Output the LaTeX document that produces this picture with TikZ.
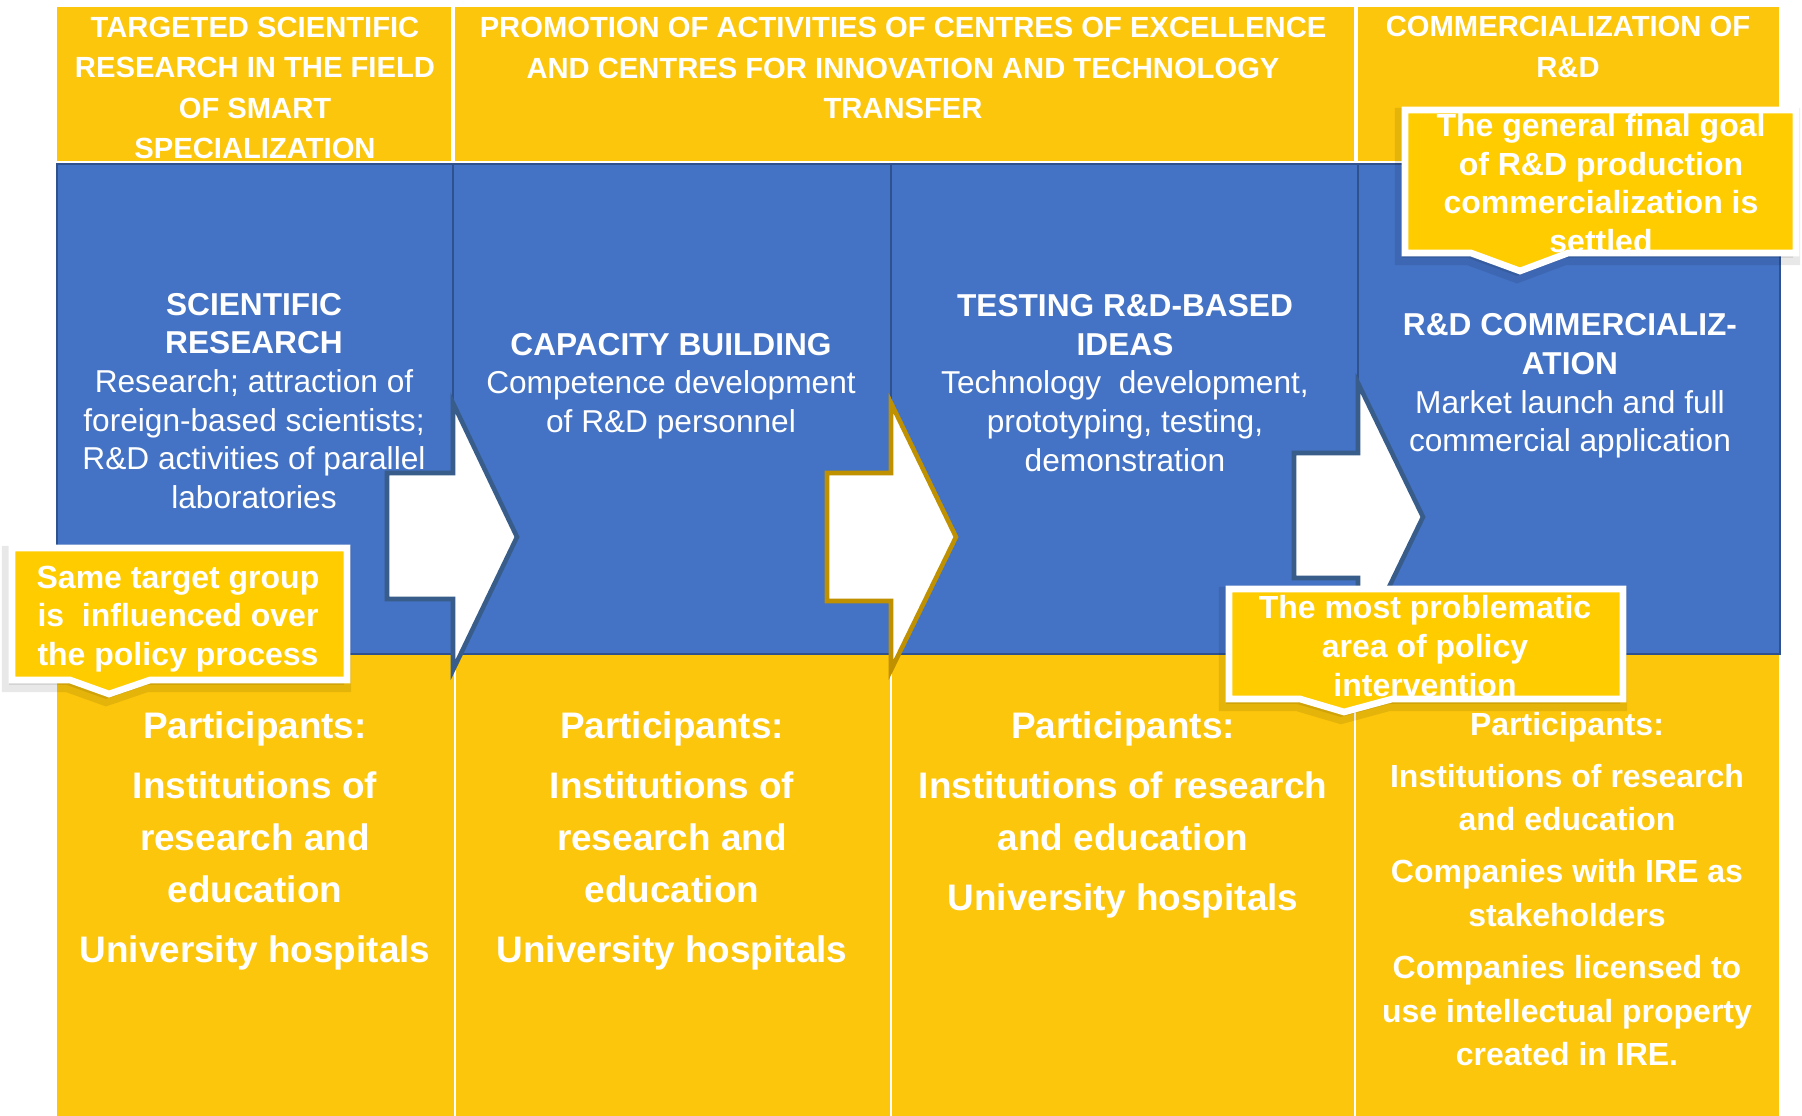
\documentclass[tikz,border=0pt]{standalone}
\usepackage{fontspec}
\setmainfont{Liberation Sans}
\definecolor{bandyellow}{RGB}{252,198,12}
\definecolor{noteyellow}{RGB}{255,204,0}
\definecolor{stageblue}{RGB}{68,114,196}
\definecolor{stageline}{RGB}{47,82,143}
\definecolor{arrowline}{RGB}{56,93,138}
\definecolor{goldline}{RGB}{191,144,0}

\begin{document}
\begin{tikzpicture}[x=0.01cm, y=-0.01cm,
    headtext/.style={text=white, align=center, inner sep=0pt, font=\fontsize{8.3}{11.5}\selectfont\bfseries},
    stagetext/.style={text=white, align=center, inner sep=0pt, font=\fontsize{9}{11}\selectfont},
    parttext/.style={text=white, align=center, inner sep=0pt, font=\fontsize{10.5}{14.7}\selectfont\bfseries},
    smallpart/.style={text=white, align=center, inner sep=0pt, font=\fontsize{9.1}{12.4}\selectfont\bfseries},
    notetext/.style={text=white, align=center, inner sep=0pt, font=\fontsize{9.1}{11}\selectfont\bfseries},
    stagebox/.style={fill=stageblue, draw=stageline, line width=0.8pt},
    flowarrow/.style={fill=white, draw=arrowline, line width=1.3pt, line join=miter},
    notebox/.style={fill=noteyellow, draw=white, line width=1.9pt, line join=miter},
    noteshadow/.style={fill=black, draw=black, opacity=0.09, line width=4pt}]
  \useasboundingbox (0,0) rectangle (1802,1116);

  % yellow bands
  \fill[bandyellow] (57,7) rectangle (1779,161);
  \fill[bandyellow] (57,655) rectangle (1779,1116);
  \draw[white, line width=0.9pt] (453,7) -- (453,161);
  \draw[white, line width=0.9pt] (1356,7) -- (1356,161);
  \draw[white, line width=0.7pt] (455,655) -- (455,1116);
  \draw[white, line width=0.7pt] (891,655) -- (891,1116);
  \draw[white, line width=0.7pt] (1355,655) -- (1355,1116);

  % blue stages
  \draw[stagebox] (57,164) rectangle (453,654);
  \draw[stagebox] (453,164) rectangle (891,654);
  \draw[stagebox] (891,164) rectangle (1358,654);
  \draw[stagebox] (1358,164) rectangle (1780,654);

  % arrows
  \draw[flowarrow] (387,473) -- (453,473) -- (453,403) -- (517,537) -- (453,670) -- (453,599) -- (387,599) -- cycle;
  \draw[flowarrow, draw=goldline] (827,473) -- (891,473) -- (891,403) -- (956,537) -- (891,670) -- (891,601) -- (827,601) -- cycle;
  \draw[flowarrow] (1294,453) -- (1358,453) -- (1358,383) -- (1423,517) -- (1358,651) -- (1358,578) -- (1294,578) -- cycle;

  \node[headtext] (head1) at (255,88) {TARGETED SCIENTIFIC\\RESEARCH IN THE FIELD\\OF SMART\\SPECIALIZATION};
  \node[headtext] (head2) at (903,68) {PROMOTION OF ACTIVITIES OF CENTRES OF EXCELLENCE\\AND CENTRES FOR INNOVATION AND TECHNOLOGY\\TRANSFER};
  \node[headtext] (head3) at (1568,47) {COMMERCIALIZATION OF\\R\&D};

  \node[stagetext] (stage1) at (254,401) {\textbf{SCIENTIFIC}\\\textbf{RESEARCH}\\Research; attraction of\\foreign-based scientists;\\R\&D activities of parallel\\laboratories};
  \node[stagetext] (stage2) at (671,386) {\textbf{CAPACITY BUILDING}\\Competence development\\of R\&D personnel};
  \node[stagetext] (stage3) at (1125,383) {\textbf{TESTING R\&D-BASED}\\\textbf{IDEAS}\\Technology\ \ development,\\prototyping, testing,\\demonstration};
  \node[stagetext] (stage4) at (1570,386) {\textbf{R\&D COMMERCIALIZ-}\\\textbf{ATION}\\Market launch and full\\commercial application};

  \node[parttext] (part1) at (255,841) {Participants:\\[2.4pt]Institutions of\\research and\\education\\[2.4pt]University hospitals};
  \node[parttext] (part2) at (672,841) {Participants:\\[2.4pt]Institutions of\\research and\\education\\[2.4pt]University hospitals};
  \node[parttext] (part3) at (1123,815) {Participants:\\[2.4pt]Institutions of research\\and education\\[2.4pt]University hospitals};
  \node[smallpart] (part4) at (1567,889) {Participants:\\[2.4pt]Institutions of research\\and education\\[2.4pt]Companies with IRE as\\stakeholders\\[2.4pt]Companies licensed to\\use intellectual property\\created in IRE.};

  % callouts
  \path[noteshadow, shift={(-3,5)}] (12,548) -- (347,548) -- (347,680) -- (150,680) -- (109,694) -- (70,680) -- (12,680) -- cycle;
  \draw[notebox] (12,548) -- (347,548) -- (347,680) -- (150,680) -- (109,694) -- (70,680) -- (12,680) -- cycle;
  \path[noteshadow, shift={(-3,5)}] (1405,110) -- (1796,110) -- (1796,253) -- (1568,253) -- (1520,271) -- (1471,253) -- (1405,253) -- cycle;
  \draw[notebox] (1405,110) -- (1796,110) -- (1796,253) -- (1568,253) -- (1520,271) -- (1471,253) -- (1405,253) -- cycle;
  \path[noteshadow, shift={(-3,5)}] (1229,589) -- (1623,589) -- (1623,699) -- (1392,699) -- (1344,712) -- (1300,699) -- (1229,699) -- cycle;
  \draw[notebox] (1229,589) -- (1623,589) -- (1623,699) -- (1392,699) -- (1344,712) -- (1300,699) -- (1229,699) -- cycle;

  \node[notetext] (note1) at (178,619) {Same target group\\is\ \ influenced over\\the policy process};
  \node[notetext] (note2) at (1601,183) {The general final goal\\of R\&D production\\commercialization is\\settled};
  \node[notetext] (note3) at (1425,646) {The most problematic\\area of policy\\intervention};
\end{tikzpicture}
\end{document}
